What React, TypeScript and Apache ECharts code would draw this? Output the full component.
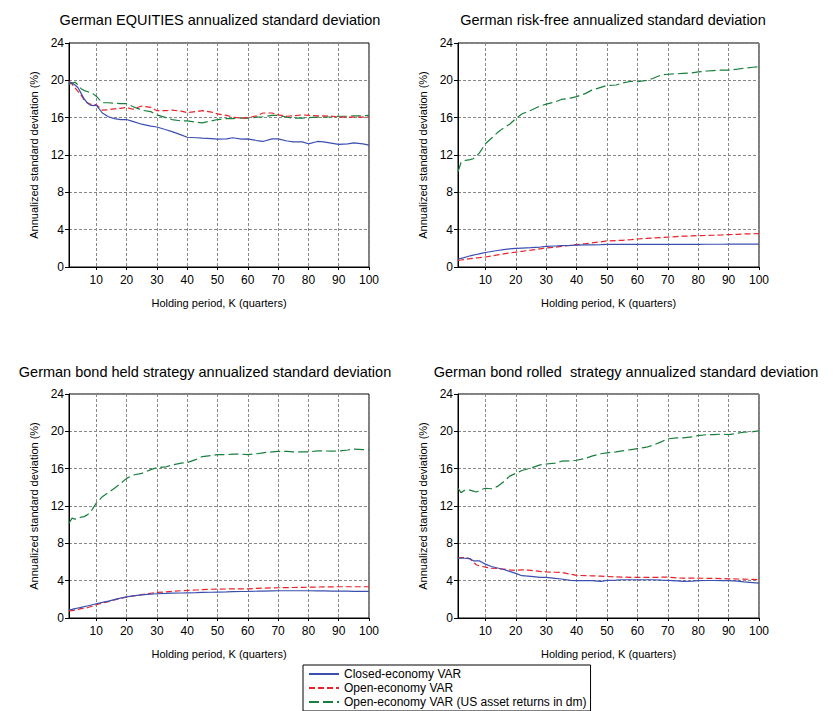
import React, { useEffect, useRef } from "react";
import * as echarts from "echarts";

const K = [1, 2, 3, 4, 5, 6, 7, 8, 9, 10, 12, 14, 16, 18, 20, 22, 25, 28, 30, 33, 35, 38, 40, 43, 45, 48, 50, 53, 55, 58, 60, 63, 65, 68, 70, 73, 75, 78, 80, 83, 85, 88, 90, 93, 95, 98, 100];

const xTicks = [10, 20, 30, 40, 50, 60, 70, 80, 90, 100];

const seriesNames = [
  "Closed-economy VAR",
  "Open-economy VAR",
  "Open-economy VAR (US asset returns in dm)",
];

const titles = [
  "German EQUITIES annualized standard deviation",
  "German risk-free annualized standard deviation",
  "German bond held strategy annualized standard deviation",
  "German bond rolled  strategy annualized standard deviation",
];

// Panel 1: equities
const eqClosed = [19.85, 19.7, 19.5, 19.2, 18.6, 18.0, 17.6, 17.35, 17.3, 17.35, 16.5, 16.1, 15.9, 15.8, 15.8, 15.6, 15.3, 15.1, 15.0, 14.7, 14.5, 14.15, 13.9, 13.85, 13.8, 13.75, 13.7, 13.73, 13.85, 13.7, 13.73, 13.55, 13.45, 13.73, 13.73, 13.5, 13.4, 13.4, 13.2, 13.45, 13.4, 13.25, 13.13, 13.2, 13.3, 13.2, 13.05];
const eqOpen = [19.9, 19.6, 19.2, 18.8, 18.4, 17.9, 17.6, 17.45, 17.4, 17.4, 16.8, 16.85, 16.95, 17.0, 17.1, 16.9, 17.25, 17.1, 16.75, 16.75, 16.8, 16.7, 16.55, 16.65, 16.75, 16.6, 16.4, 16.25, 16.05, 15.95, 16.0, 16.2, 16.5, 16.5, 16.3, 16.15, 16.2, 16.3, 16.25, 16.2, 16.2, 16.15, 16.05, 16.05, 16.05, 16.05, 16.05];
const eqUS = [19.6, 19.7, 19.8, 19.5, 19.1, 18.9, 18.8, 18.7, 18.55, 18.3, 17.6, 17.6, 17.55, 17.5, 17.5, 17.2, 16.8, 16.65, 16.3, 16.0, 15.8, 15.65, 15.65, 15.5, 15.45, 15.65, 15.8, 15.9, 15.9, 15.95, 15.95, 16.05, 16.1, 16.25, 16.25, 16.05, 15.95, 15.95, 16.0, 16.05, 16.05, 16.1, 16.15, 16.15, 16.2, 16.2, 16.25];

// Panel 2: risk-free
const rfClosed = [0.85, 0.92, 1.0, 1.1, 1.2, 1.27, 1.34, 1.41, 1.48, 1.55, 1.66, 1.77, 1.86, 1.94, 2.0, 2.03, 2.07, 2.14, 2.2, 2.25, 2.28, 2.32, 2.35, 2.37, 2.38, 2.4, 2.42, 2.42, 2.42, 2.42, 2.42, 2.42, 2.42, 2.42, 2.42, 2.43, 2.43, 2.43, 2.43, 2.44, 2.44, 2.44, 2.45, 2.45, 2.45, 2.45, 2.45];
const rfOpen = [0.72, 0.75, 0.8, 0.85, 0.9, 0.93, 0.97, 1.0, 1.04, 1.07, 1.18, 1.3, 1.4, 1.5, 1.6, 1.68, 1.8, 1.95, 2.05, 2.13, 2.2, 2.32, 2.4, 2.5, 2.58, 2.7, 2.8, 2.83, 2.86, 2.94, 3.0, 3.06, 3.1, 3.16, 3.2, 3.26, 3.3, 3.33, 3.36, 3.38, 3.4, 3.44, 3.47, 3.5, 3.54, 3.56, 3.58];
const rfUS = [10.2, 11.2, 11.4, 11.45, 11.5, 11.6, 11.9, 12.2, 12.7, 13.2, 13.8, 14.4, 14.9, 15.3, 15.9, 16.4, 16.8, 17.25, 17.45, 17.7, 17.95, 18.1, 18.25, 18.6, 18.95, 19.25, 19.45, 19.5, 19.7, 19.9, 19.85, 20.0, 20.2, 20.6, 20.65, 20.7, 20.75, 20.8, 20.9, 21.0, 21.05, 21.1, 21.1, 21.2, 21.3, 21.4, 21.45];

// Panel 3: bond held
const heldClosed = [0.89, 0.93, 1.0, 1.07, 1.14, 1.21, 1.29, 1.37, 1.45, 1.53, 1.67, 1.81, 1.97, 2.13, 2.27, 2.37, 2.48, 2.56, 2.6, 2.63, 2.66, 2.68, 2.7, 2.72, 2.74, 2.76, 2.78, 2.8, 2.82, 2.84, 2.85, 2.87, 2.89, 2.91, 2.92, 2.92, 2.92, 2.92, 2.92, 2.91, 2.9, 2.89, 2.88, 2.87, 2.86, 2.85, 2.85];
const heldOpen = [0.75, 0.8, 0.85, 0.92, 1.0, 1.05, 1.1, 1.2, 1.3, 1.42, 1.6, 1.75, 1.95, 2.1, 2.24, 2.35, 2.5, 2.65, 2.74, 2.8, 2.85, 2.92, 2.96, 3.0, 3.04, 3.08, 3.1, 3.11, 3.12, 3.13, 3.13, 3.17, 3.2, 3.22, 3.24, 3.26, 3.27, 3.29, 3.3, 3.32, 3.33, 3.34, 3.35, 3.35, 3.35, 3.35, 3.35];
const heldUS = [10.15, 10.7, 10.6, 10.7, 10.8, 10.86, 11.05, 11.3, 11.8, 12.3, 13.0, 13.45, 13.9, 14.4, 14.96, 15.3, 15.5, 15.9, 16.1, 16.2, 16.4, 16.6, 16.65, 17.0, 17.3, 17.4, 17.5, 17.5, 17.55, 17.55, 17.5, 17.6, 17.7, 17.8, 17.85, 17.85, 17.8, 17.8, 17.8, 17.9, 17.9, 17.88, 17.9, 18.0, 18.1, 18.05, 18.0];

// Panel 4: bond rolled
const rollClosed = [6.41, 6.41, 6.4, 6.38, 6.34, 6.13, 6.12, 6.12, 5.95, 5.77, 5.52, 5.36, 5.2, 5.0, 4.78, 4.53, 4.46, 4.36, 4.36, 4.25, 4.18, 4.04, 4.0, 4.0, 4.0, 3.92, 4.04, 4.06, 4.1, 4.1, 4.1, 4.1, 4.1, 4.06, 4.04, 3.98, 3.92, 3.96, 4.0, 4.02, 4.02, 4.0, 4.0, 3.95, 3.88, 3.8, 3.74];
const rollOpen = [6.48, 6.48, 6.48, 6.45, 6.34, 6.0, 5.7, 5.6, 5.52, 5.45, 5.34, 5.3, 5.23, 5.16, 5.1, 5.16, 5.1, 4.99, 4.95, 4.9, 4.88, 4.7, 4.56, 4.54, 4.52, 4.48, 4.45, 4.4, 4.38, 4.36, 4.35, 4.35, 4.35, 4.37, 4.38, 4.3, 4.27, 4.27, 4.27, 4.25, 4.24, 4.22, 4.2, 4.18, 4.17, 4.13, 4.1];
const rollUS = [13.9, 13.43, 13.65, 13.7, 13.7, 13.6, 13.5, 13.65, 13.8, 13.9, 13.85, 14.1, 14.6, 15.2, 15.5, 15.8, 16.07, 16.4, 16.5, 16.6, 16.8, 16.85, 16.9, 17.1, 17.35, 17.6, 17.7, 17.8, 17.9, 18.05, 18.15, 18.3, 18.5, 18.9, 19.2, 19.3, 19.3, 19.4, 19.55, 19.65, 19.65, 19.7, 19.65, 19.8, 19.9, 19.96, 20.05];

const panels = [
  [eqClosed, eqOpen, eqUS],
  [rfClosed, rfOpen, rfUS],
  [heldClosed, heldOpen, heldUS],
  [rollClosed, rollOpen, rollUS],
];

const FONT = "'Liberation Sans', Arial, sans-serif";
const COLORS = ["#3b4fb0", "#e8232a", "#17803d"];
const DASHES: any[] = ["solid", [6, 3], [10, 4]];

const GRIDS = [
  { left: 69, top: 43, width: 300, height: 224 },
  { left: 458, top: 43, width: 301, height: 224 },
  { left: 69, top: 394, width: 300, height: 224 },
  { left: 458, top: 394, width: 301, height: 224 },
];

const TITLE_POS = [
  [220, 20],
  [613, 20],
  [205, 372],
  [626, 372],
];

export default function App() {
  const ref = useRef<HTMLDivElement>(null);
  useEffect(() => {
    if (!ref.current) return;
    const chart = echarts.init(ref.current, null, { renderer: "svg" });
    const grid = GRIDS.map((g) => ({
      ...g,
      show: true,
      borderColor: "#000",
      borderWidth: 1,
      containLabel: false,
    }));
    const xAxis = GRIDS.map((_, i) => ({
      type: "value",
      gridIndex: i,
      min: 1,
      max: 100,
      name: "Holding period, K (quarters)",
      nameLocation: "middle",
      nameGap: 30,
      nameTextStyle: { fontFamily: FONT, fontSize: 11, color: "#000" },
      axisLine: { lineStyle: { color: "#000", width: 1 } },
      axisTick: { show: true, length: 3, customValues: xTicks, lineStyle: { color: "#000" } },
      axisLabel: { customValues: xTicks, fontFamily: FONT, fontSize: 12, color: "#000", margin: 7 },
      splitLine: { show: true, lineStyle: { color: "#888", type: [3, 2], width: 1 } },
    }));
    const yAxis = GRIDS.map((_, i) => ({
      type: "value",
      gridIndex: i,
      min: 0,
      max: 24,
      interval: 4,
      name: "Annualized standard deviation (%)",
      nameLocation: "middle",
      nameGap: 30,
      nameTextStyle: { fontFamily: FONT, fontSize: 11, color: "#000" },
      axisLine: { show: true, lineStyle: { color: "#000", width: 1 } },
      axisTick: { show: true, length: 4, lineStyle: { color: "#000" } },
      axisLabel: { fontFamily: FONT, fontSize: 12, color: "#000", margin: 5 },
      splitLine: { show: true, lineStyle: { color: "#888", type: [3, 2], width: 1 } },
    }));
    const series: any[] = [];
    panels.forEach((arrs, gi) => {
      arrs.forEach((arr, si) => {
        series.push({
          type: "line",
          name: seriesNames[si],
          xAxisIndex: gi,
          yAxisIndex: gi,
          data: K.map((k, j) => [k, arr[j]]),
          symbol: "none",
          z: 10 - si,
          lineStyle: { color: COLORS[si], width: 1.2, type: DASHES[si] },
          itemStyle: { color: COLORS[si] },
        });
      });
    });
    const graphic = titles.map((t, i) => ({
      type: "text",
      x: TITLE_POS[i][0],
      y: TITLE_POS[i][1],
      style: {
        text: t,
        align: "center",
        verticalAlign: "middle",
        fontFamily: FONT,
        fontSize: 14.5,
        fill: "#000",
      },
    }));
    chart.setOption({
      animation: false,
      backgroundColor: "#fff",
      grid,
      xAxis,
      yAxis,
      series,
      graphic,
      legend: {
        show: true,
        orient: "vertical",
        left: 303,
        top: 665,
        itemWidth: 30,
        itemHeight: 8,
        itemGap: 2,
        padding: [3, 4, 3, 5],
        borderColor: "#000",
        borderWidth: 1,
        data: seriesNames,
        itemStyle: { opacity: 0, borderWidth: 0 },
        textStyle: { fontFamily: FONT, fontSize: 12, color: "#000" },
      },
    });
    return () => chart.dispose();
  }, []);
  return (
    <div
      ref={ref}
      style={{ position: "fixed", left: 0, top: 0, width: 833, height: 760, background: "#fff" }}
    />
  );
}
